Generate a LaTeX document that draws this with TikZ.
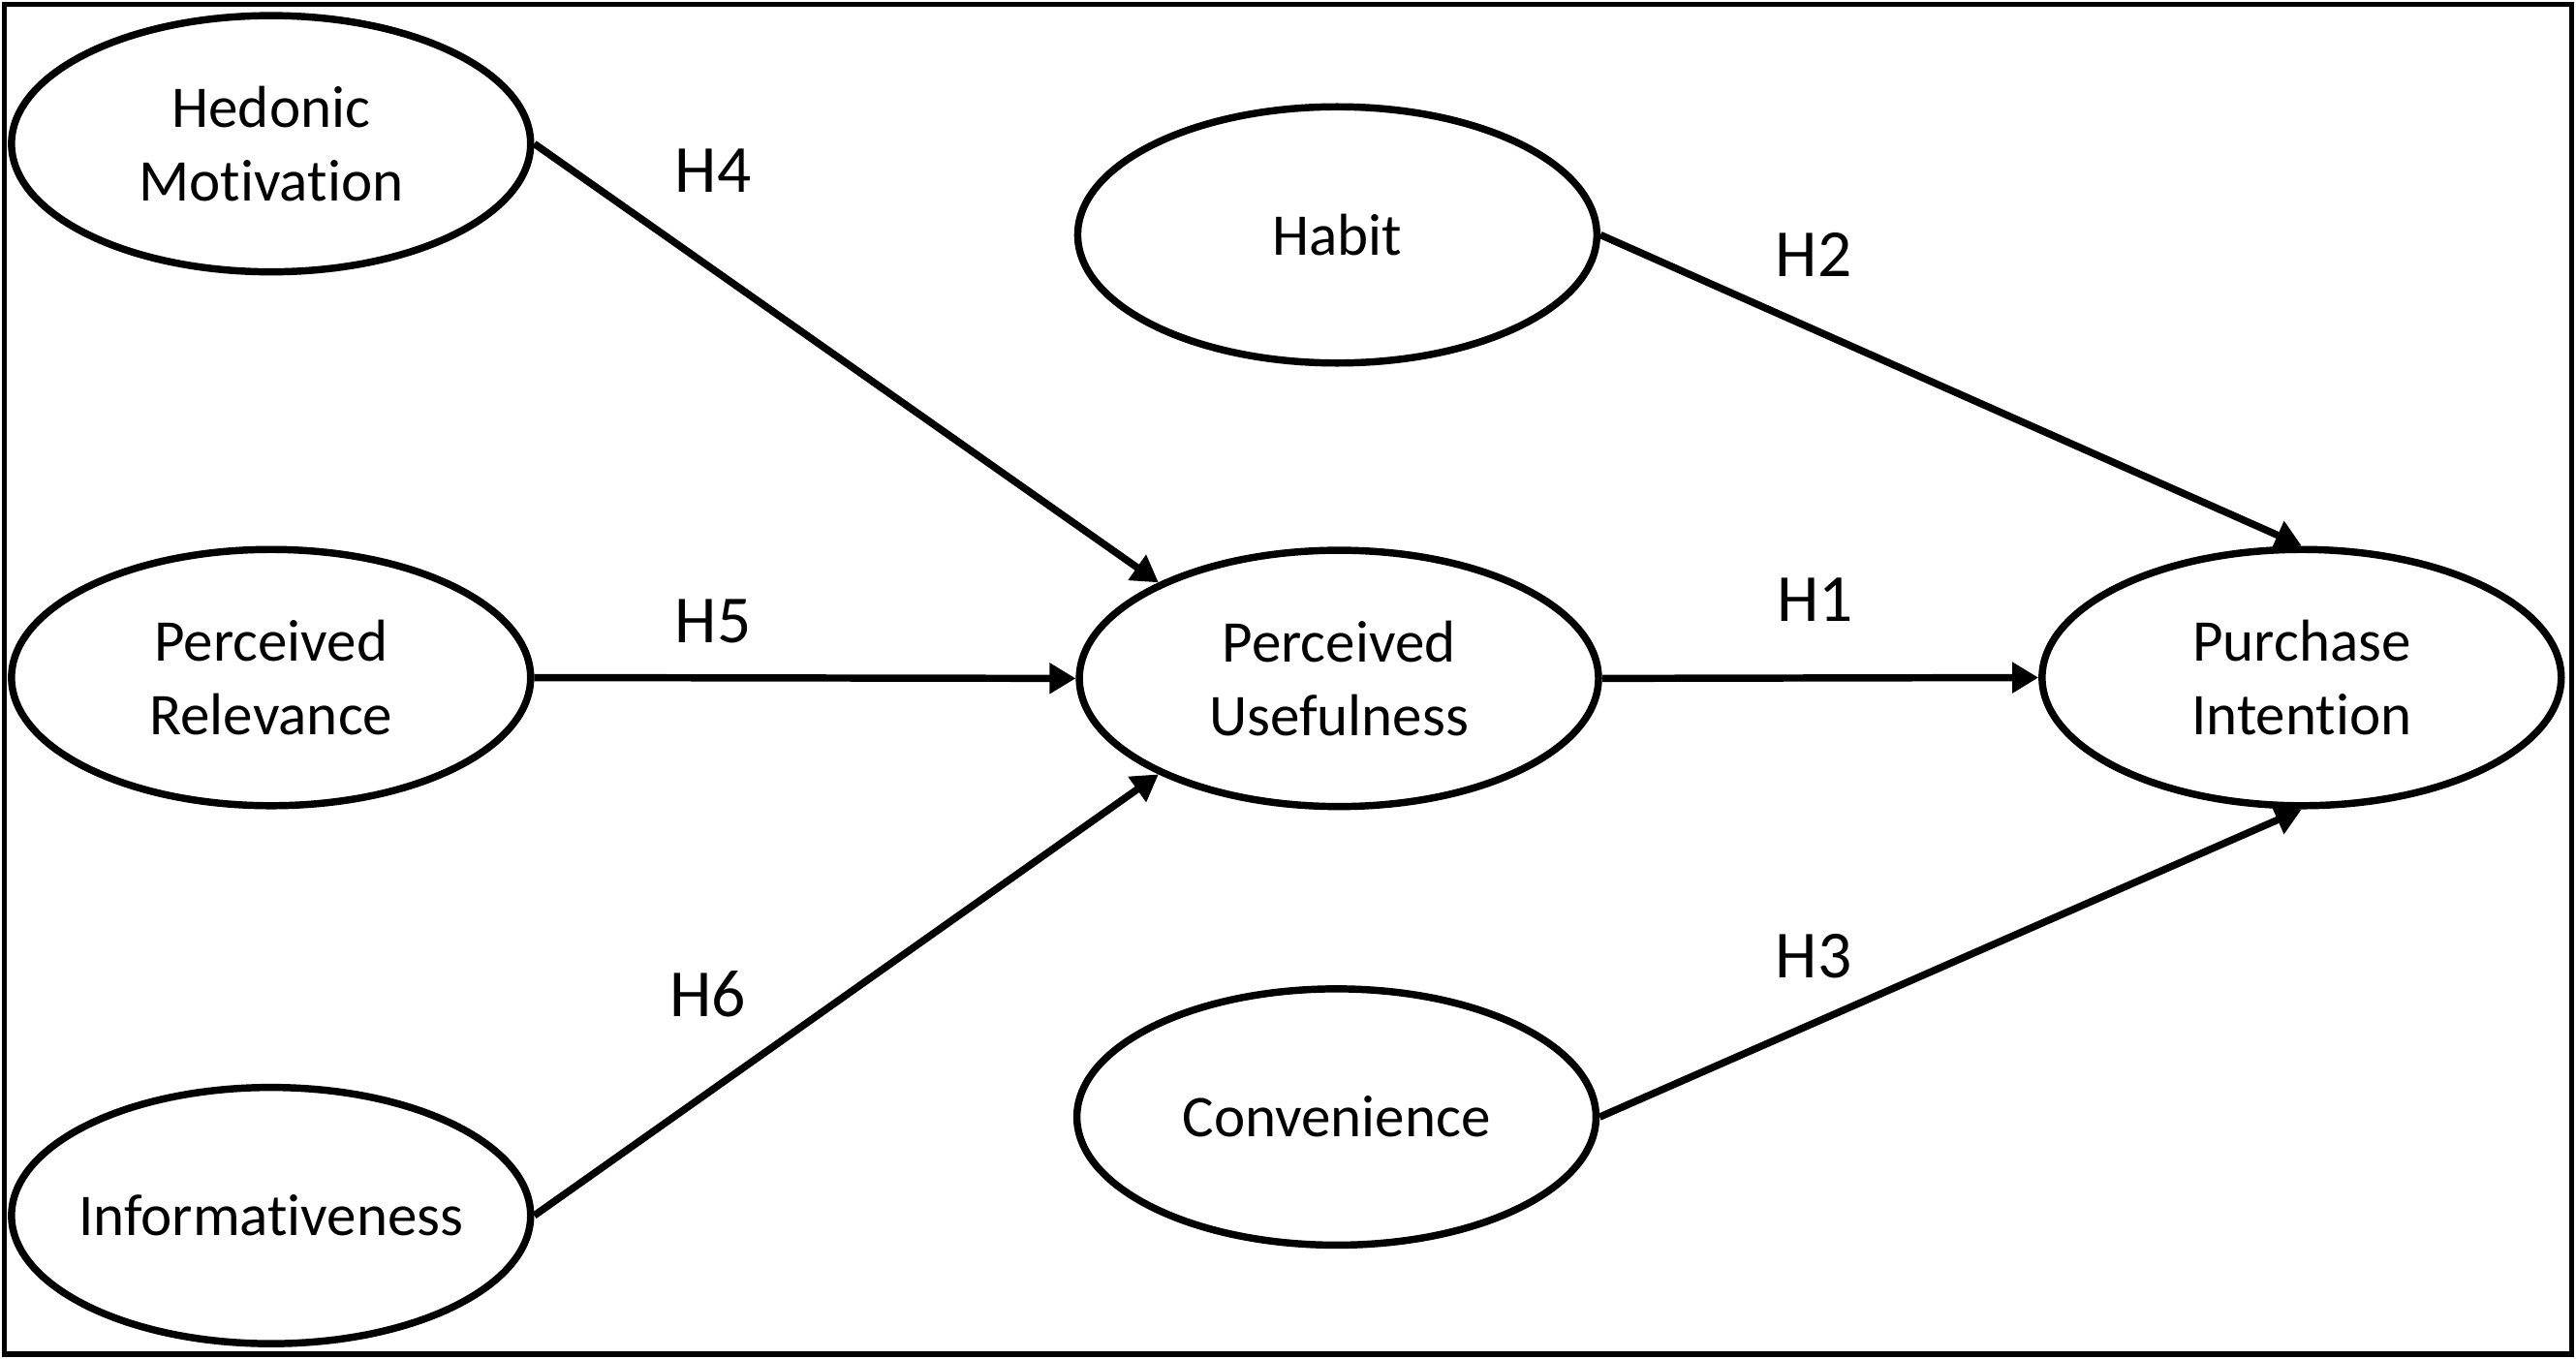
\documentclass[tikz,border=0pt]{standalone}
\usepackage{fontspec}
\setmainfont{Carlito}[Ligatures={NoCommon,NoContextual},Contextuals=NoAlternate]
\usetikzlibrary{shapes.geometric,arrows.meta}
\begin{document}
\begin{tikzpicture}[x=1pt,y=-1pt,
  construct/.style={draw=black, line width=4.4pt, ellipse, minimum width=316pt, minimum height=156pt, inner sep=0pt, align=center, font=\fontsize{36}{45}\selectfont},
  hyp/.style={inner sep=0pt, font=\fontsize{41}{48}\selectfont},
  path/.style={draw=black, line width=4.4pt, -{Triangle[length=16pt,width=18pt]}}]
\useasboundingbox (0,0) rectangle (1568,827);
\draw[line width=3.3pt] (2.7,2.7) rectangle (1565.3,824.3);
\node[construct] (hm) at (165,87.5) {Hedonic\\Motivation};
\node[construct] (hab) at (814,143) {Habit};
\node[construct] (pr) at (165,412.5) {Perceived\\Relevance};
\node[construct] (pu) at (815,413) {Perceived\\Usefulness};
\node[construct] (pi) at (1401,412.5) {Purchase\\Intention};
\node[construct] (inf) at (165,740) {\makebox[0pt]{Informativeness}};
\node[construct] (conv) at (813.5,680) {Convenience};
\draw[path] (hm.east) -- (pu.152.6);
\draw[path] (pr.east) -- (pu.west);
\draw[path] (inf.east) -- (pu.208);
\draw[path] (hab.east) -- (pi.north);
\draw[path] (pu.east) -- (pi.west);
\draw[path] (conv.east) -- (pi.south);
\node[hyp] (h4) at (434,104) {H4};
\node[hyp] (h5) at (434,378) {H5};
\node[hyp] (h6) at (431,605) {H6};
\node[hyp] (h2) at (1104,155) {H2};
\node[hyp] (h1) at (1105,365) {H1};
\node[hyp] (h3) at (1104,582) {H3};
\end{tikzpicture}
\end{document}
